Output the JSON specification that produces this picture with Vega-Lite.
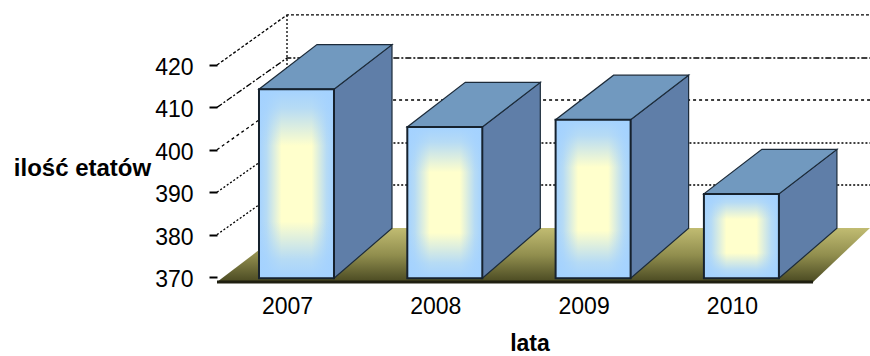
{
"$schema":"https://vega.github.io/schema/vega-lite/v6.json",
"width":653,"height":282,
"autosize":{"type":"none"},
"padding":{"left":217,"top":0,"right":0,"bottom":74},
"background":"white",
"config":{"view":{"stroke":null}},
"resolve":{"axis":{"x":"independent","y":"independent"}},
"datasets":{
"bars":[{"year":2007,"value":414.3},{"year":2008,"value":405.4},{"year":2009,"value":407.1},{"year":2010,"value":389.6}],
"floor":[{"x":2006.464,"lo":368.82,"hi":368.82},{"x":2006.943,"lo":368.82,"hi":381.56},{"x":2010.483,"lo":368.82,"hi":381.56},{"x":2010.867,"lo":381.56,"hi":381.56}],
"wall":[
{"line":"420","x":2006.464,"y":420},{"line":"420","x":2006.936,"y":431.8},{"line":"420","x":2010.867,"y":431.8},
{"line":"410","x":2006.464,"y":410},{"line":"410","x":2006.936,"y":421.65},{"line":"410","x":2010.867,"y":421.65},
{"line":"400","x":2006.464,"y":400},{"line":"400","x":2006.936,"y":411.75},{"line":"400","x":2010.867,"y":411.75},
{"line":"390","x":2006.464,"y":390},{"line":"390","x":2006.936,"y":401.6},{"line":"390","x":2010.867,"y":401.6},
{"line":"380","x":2006.464,"y":380},{"line":"380","x":2006.936,"y":391.7},{"line":"380","x":2010.867,"y":391.7},
{"line":"back","x":2006.936,"y":431.8},{"line":"back","x":2006.936,"y":381.56}
],
"front":[{"x":2006.464,"y":368.82},{"x":2010.483,"y":368.82}],
"side":[
{"year":2007,"x":2007.253,"lo":369.7,"hi":414.3},{"year":2007,"x":2007.644,"lo":381.5,"hi":424.8},
{"year":2008,"x":2008.253,"lo":369.7,"hi":405.4},{"year":2008,"x":2008.644,"lo":381.5,"hi":415.9},
{"year":2009,"x":2009.253,"lo":369.7,"hi":407.1},{"year":2009,"x":2009.644,"lo":381.5,"hi":417.6},
{"year":2010,"x":2010.253,"lo":369.7,"hi":389.6},{"year":2010,"x":2010.644,"lo":381.5,"hi":400.1}
],
"top":[
{"year":2007,"x":2006.747,"lo":414.3,"hi":414.3},{"year":2007,"x":2007.138,"lo":414.3,"hi":424.8},{"year":2007,"x":2007.253,"lo":414.3,"hi":424.8},{"year":2007,"x":2007.644,"lo":424.8,"hi":424.8},
{"year":2008,"x":2007.747,"lo":405.4,"hi":405.4},{"year":2008,"x":2008.138,"lo":405.4,"hi":415.9},{"year":2008,"x":2008.253,"lo":405.4,"hi":415.9},{"year":2008,"x":2008.644,"lo":415.9,"hi":415.9},
{"year":2009,"x":2008.747,"lo":407.1,"hi":407.1},{"year":2009,"x":2009.138,"lo":407.1,"hi":417.6},{"year":2009,"x":2009.253,"lo":407.1,"hi":417.6},{"year":2009,"x":2009.644,"lo":417.6,"hi":417.6},
{"year":2010,"x":2009.747,"lo":389.6,"hi":389.6},{"year":2010,"x":2010.138,"lo":389.6,"hi":400.1},{"year":2010,"x":2010.253,"lo":389.6,"hi":400.1},{"year":2010,"x":2010.644,"lo":400.1,"hi":400.1}
]
},
"layer":[
{"data":{"name":"floor"},
 "mark":{"type":"area","fill":{"gradient":"linear","x1":0,"y1":0,"x2":0,"y2":1,"stops":[{"offset":0,"color":"#c1bc72"},{"offset":0.5,"color":"#918e4e"},{"offset":1,"color":"#4a4a22"}]}},
 "encoding":{
  "x":{"field":"x","type":"quantitative","scale":{"domain":[2006.464,2010.867],"nice":false,"zero":false,"padding":0},
   "axis":{"values":[2007,2008,2009,2010],"format":"d","grid":false,"domain":false,"ticks":false,"labelFont":"Liberation Sans","labelFontSize":23,"labelFontWeight":"normal","labelColor":"#000","labelPadding":13,"labelOffset":-9.5,"title":"lata","titleFont":"Liberation Sans","titleFontSize":23,"titleFontWeight":"bold","titleColor":"#000","titleX":312.5,"titleY":68,"titleBaseline":"alphabetic","titleAlign":"center"}},
  "y":{"field":"lo","type":"quantitative","scale":{"domain":[368.82,435.33],"nice":false,"zero":false},
   "axis":{"values":[370,380,390,400,410,420],"grid":false,"domain":false,"tickSize":8,"tickWidth":2,"tickColor":"#000","labelFont":"Liberation Sans","labelFontSize":23,"labelFontWeight":"normal","labelColor":"#000","labelPadding":16,"labelOffset":2.5,"title":"ilość etatów","titleFont":"Liberation Sans","titleFontSize":24,"titleFontWeight":"bold","titleColor":"#000","titleAngle":0,"titleX":-135,"titleY":168,"titleAlign":"center","titleBaseline":"middle"}},
  "y2":{"field":"hi"}}},
{"data":{"name":"wall"},
 "mark":{"type":"line","color":"#000","strokeWidth":1.3},
 "encoding":{
  "x":{"field":"x","type":"quantitative","axis":null},
  "y":{"field":"y","type":"quantitative","axis":null},
  "strokeDash":{"field":"line","type":"nominal","legend":null,"scale":{"domain":["420","410","400","390","380","back"],"range":[[3,2],[6,2,2,2],[3,3],[2,2],[2,2],[2,2]]}}}},
{"data":{"name":"front"},
 "mark":{"type":"line","color":"#1f1f10","strokeWidth":3},
 "encoding":{"x":{"field":"x","type":"quantitative","axis":null},"y":{"field":"y","type":"quantitative","axis":null}}},
{"data":{"name":"side"},
 "mark":{"type":"area","fill":"#5f7ea8","stroke":"#1c2b3a","strokeWidth":1.2},
 "encoding":{"x":{"field":"x","type":"quantitative","axis":null},"y":{"field":"lo","type":"quantitative","axis":null},"y2":{"field":"hi"},"detail":{"field":"year"}}},
{"data":{"name":"top"},
 "mark":{"type":"area","fill":"#7199bf","stroke":"#1c2b3a","strokeWidth":1.2},
 "encoding":{"x":{"field":"x","type":"quantitative","axis":null},"y":{"field":"lo","type":"quantitative","axis":null},"y2":{"field":"hi"},"detail":{"field":"year"}}},
{"data":{"name":"bars"},
 "mark":{"type":"bar","width":75,"fill":"#ffffcc"},
 "encoding":{"x":{"field":"year","type":"quantitative","axis":null},"y":{"field":"value","type":"quantitative","axis":null},"y2":{"datum":369.7}}},
{"data":{"name":"bars"},
 "mark":{"type":"bar","width":75,"fill":{"gradient":"linear","x1":0,"y1":0,"x2":1,"y2":0,"stops":[{"offset":0,"color":"rgba(164,210,255,1)"},{"offset":0.1,"color":"rgba(164,210,255,0.8)"},{"offset":0.3,"color":"rgba(164,210,255,0)"},{"offset":0.7,"color":"rgba(164,210,255,0)"},{"offset":0.9,"color":"rgba(164,210,255,0.8)"},{"offset":1,"color":"rgba(164,210,255,1)"}]}},
 "encoding":{"x":{"field":"year","type":"quantitative","axis":null},"y":{"field":"value","type":"quantitative","axis":null},"y2":{"datum":369.7}}},
{"data":{"name":"bars"},
 "mark":{"type":"bar","width":75,"stroke":"#16222e","strokeWidth":2,"fill":{"gradient":"linear","x1":0,"y1":0,"x2":0,"y2":1,"stops":[{"offset":0,"color":"rgba(164,210,255,1)"},{"offset":0.1,"color":"rgba(164,210,255,0.8)"},{"offset":0.3,"color":"rgba(164,210,255,0)"},{"offset":0.7,"color":"rgba(164,210,255,0)"},{"offset":0.9,"color":"rgba(164,210,255,0.8)"},{"offset":1,"color":"rgba(164,210,255,1)"}]}},
 "encoding":{"x":{"field":"year","type":"quantitative","axis":null},"y":{"field":"value","type":"quantitative","axis":null},"y2":{"datum":369.7}}}
]
}
